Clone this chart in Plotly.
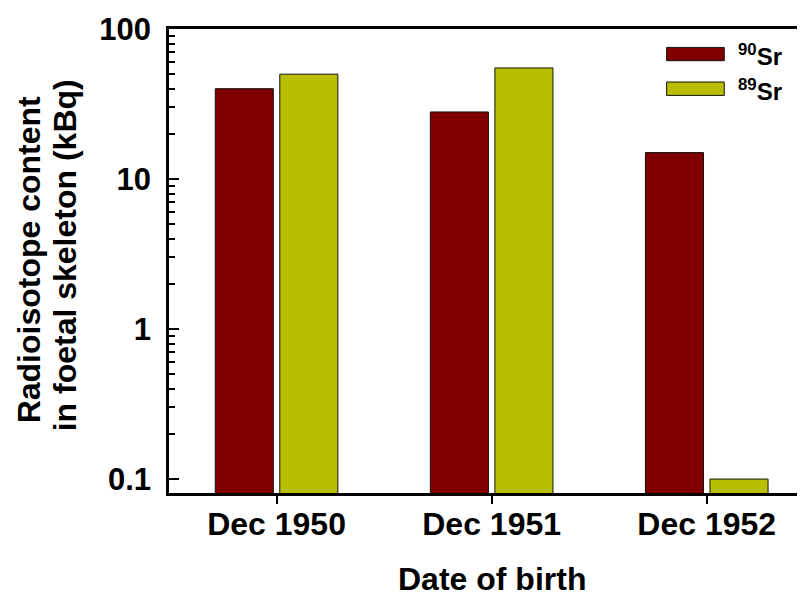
import plotly.graph_objects as go

categories = ["Dec 1950", "Dec 1951", "Dec 1952"]
sr90 = [40, 28, 15]
sr89 = [50, 55, 0.1]
ytick_vals = [0.1, 1, 10, 100]
ytick_text = ["0.1", "1", "10", "100"]
minor_vals = [m * 10 ** e for e in (-1, 0, 1) for m in range(2, 10)]

OFF = 8  # page body margin
W, H = 805 - OFF, 594 - OFF
L, R, T, B = 169.3 - OFF, 805.0 - OFF, 29.3 - OFF, 493.3 - OFF

def px(xp):
    return (xp - OFF - L) / (R - L)

def py(yp):
    return (B - (yp - OFF)) / (B - T)

FONT = "Liberation Sans, Arial, sans-serif"
RED = "#800000"
YEL = "#B9BF00"

fig = go.Figure()
fig.add_trace(go.Bar(x=[0, 1, 2], y=sr90, name="90Sr",
                     marker=dict(color=RED, line=dict(color="#111", width=1))))
fig.add_trace(go.Bar(x=[0, 1, 2], y=sr89, name="89Sr",
                     marker=dict(color=YEL, line=dict(color="#111", width=1))))

fig.update_layout(
    width=W, height=H,
    margin=dict(l=L, r=W - R, t=T, b=H - B, pad=0),
    paper_bgcolor="white", plot_bgcolor="white",
    barmode="group", bargap=0.4, bargroupgap=0.1,
    showlegend=False,
    font=dict(family=FONT, color="black"),
)
fig.update_xaxes(
    range=[-0.5, -0.5 + (R - L) / 215.0],
    tickmode="array", tickvals=[0, 1, 2], ticktext=categories,
    ticks="outside", ticklen=8, tickwidth=2, tickcolor="black",
    showline=True, linecolor="black", linewidth=2.5, mirror=True,
    showgrid=False, zeroline=False,
    tickfont=dict(family=FONT, size=32, weight="bold", color="black"),
    ticklabelstandoff=-7,
)
fig.update_yaxes(
    type="log", range=[-1.093, 2.0],
    tickmode="array", tickvals=ytick_vals, ticktext=ytick_text,
    ticks="inside", ticklen=10, tickwidth=2, tickcolor="black",
    minor=dict(tickmode="array", tickvals=minor_vals, ticks="inside",
               ticklen=6, tickwidth=2, tickcolor="black", showgrid=False),
    showline=True, linecolor="black", linewidth=2.5,
    showgrid=False, zeroline=False,
    tickfont=dict(family=FONT, size=31, weight="bold", color="black"),
    ticklabelstandoff=9,
)

# Axis titles
fig.add_annotation(text="Date of birth", xref="x", yref="paper",
                   x=1, y=py(579), showarrow=False, xanchor="center", yanchor="middle",
                   font=dict(family=FONT, size=32, weight="bold", color="black"))
fig.add_annotation(text="Radioisotope content", xref="paper", yref="paper",
                   x=px(29), y=py(260), textangle=-90, showarrow=False,
                   xanchor="center", yanchor="middle",
                   font=dict(family=FONT, size=32, weight="bold", color="black"))
fig.add_annotation(text="in foetal skeleton (kBq)", xref="paper", yref="paper",
                   x=px(65), y=py(256), textangle=-90, showarrow=False,
                   xanchor="center", yanchor="middle",
                   font=dict(family=FONT, size=32, weight="bold", color="black"))

# Legend drawn manually (wide swatches)
for (y0, y1), col, lab in [((47.7, 61.0), RED, "<sup>90</sup>Sr"),
                           ((82.3, 95.7), YEL, "<sup>89</sup>Sr")]:
    fig.add_shape(type="rect", xref="paper", yref="paper",
                  x0=px(666.7), x1=px(724.3), y0=py(y1), y1=py(y0),
                  fillcolor=col, line=dict(color="#111", width=1))
    fig.add_annotation(text=lab, xref="paper", yref="paper",
                       x=px(736), y=py((y0 + y1) / 2 + 1), showarrow=False,
                       xanchor="left", yanchor="middle",
                       font=dict(family=FONT, size=24, weight="bold", color="black"))

fig.write_html("out.html")
